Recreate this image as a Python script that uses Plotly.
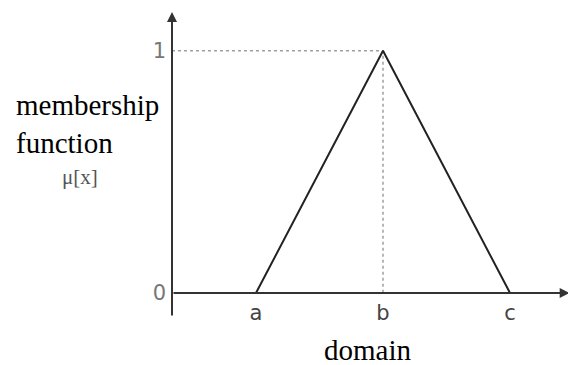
#!/usr/bin/env python3
"""Triangular membership function sketch (a, b, c) on plain arrowed axes."""
import plotly.graph_objects as go

# data
categories = ['a', 'b', 'c']
domain_values = [1, 2, 3]
membership = [0, 1, 0]
y_ticks = [0, 1]
y_ticktext = ['0', '1']

# where the hand-drawn axes meet, in data units
ORIGIN_X = 0.3386
X_END = 3.47
Y_END = 1.16
Y_BOTTOM = -0.099

SERIF = 'Liberation Serif, Times New Roman, serif'
SANS = 'DejaVu Sans, Verdana, sans-serif'

fig = go.Figure()

# dotted guide from the peak to both axes
peak = membership.index(max(membership))
fig.add_trace(go.Scatter(
    x=[ORIGIN_X, domain_values[peak], domain_values[peak]],
    y=[membership[peak], membership[peak], 0],
    mode='lines', line=dict(color='#a0a0a0', width=1.5, dash='dot'),
    hoverinfo='skip', showlegend=False, cliponaxis=False,
))

# the triangle itself
fig.add_trace(go.Scatter(
    x=domain_values, y=membership, mode='lines',
    line=dict(color='#222222', width=2),
    showlegend=False, cliponaxis=False,
))

# axes with arrow heads
fig.add_annotation(x=X_END, y=0, ax=ORIGIN_X, ay=0, xref='x', yref='y', axref='x', ayref='y',
                   text='', showarrow=True, arrowhead=2, arrowsize=1, arrowwidth=2, arrowcolor='#333333')
fig.add_annotation(x=ORIGIN_X, y=Y_END, ax=ORIGIN_X, ay=Y_BOTTOM, xref='x', yref='y', axref='x', ayref='y',
                   text='', showarrow=True, arrowhead=2, arrowsize=1, arrowwidth=2, arrowcolor='#333333')

# labels
fig.add_annotation(x=-0.391, y=0.5947, xref='paper', yref='paper', xanchor='left', yanchor='middle',
                   text='membership<br>function', align='left', showarrow=False,
                   font=dict(family=SERIF, size=29, color='#000000'))
fig.add_annotation(x=-0.2277, y=0.407, xref='paper', yref='paper', xanchor='center', yanchor='middle',
                   text='\u03bc[x]', showarrow=False,
                   font=dict(family=SERIF, size=21, color='#555555'))
fig.add_annotation(x=0.4827, y=-0.2, xref='paper', yref='paper', xanchor='center', yanchor='middle',
                   text='domain', showarrow=False,
                   font=dict(family=SERIF, size=29, color='#000000'))

fig.update_xaxes(range=[ORIGIN_X, 3.5197], tickvals=domain_values, ticktext=categories,
                 showgrid=False, zeroline=False, showline=False, ticks='', ticklabelstandoff=5,
                 tickfont=dict(family=SANS, size=21, color='#444444'))
fig.update_yaxes(range=[0, 1.1762], tickvals=y_ticks, ticktext=y_ticktext,
                 showgrid=False, zeroline=False, showline=False, ticks='', ticklabelstandoff=5,
                 tickfont=dict(family=SANS, size=21, color='#777777'))

# page body adds an 8px offset, so the figure is 8px smaller on each side
fig.update_layout(width=568, height=357, margin=dict(l=164, r=0, t=0, b=72),
                  plot_bgcolor='white', paper_bgcolor='white')

fig.write_html("out.html")
